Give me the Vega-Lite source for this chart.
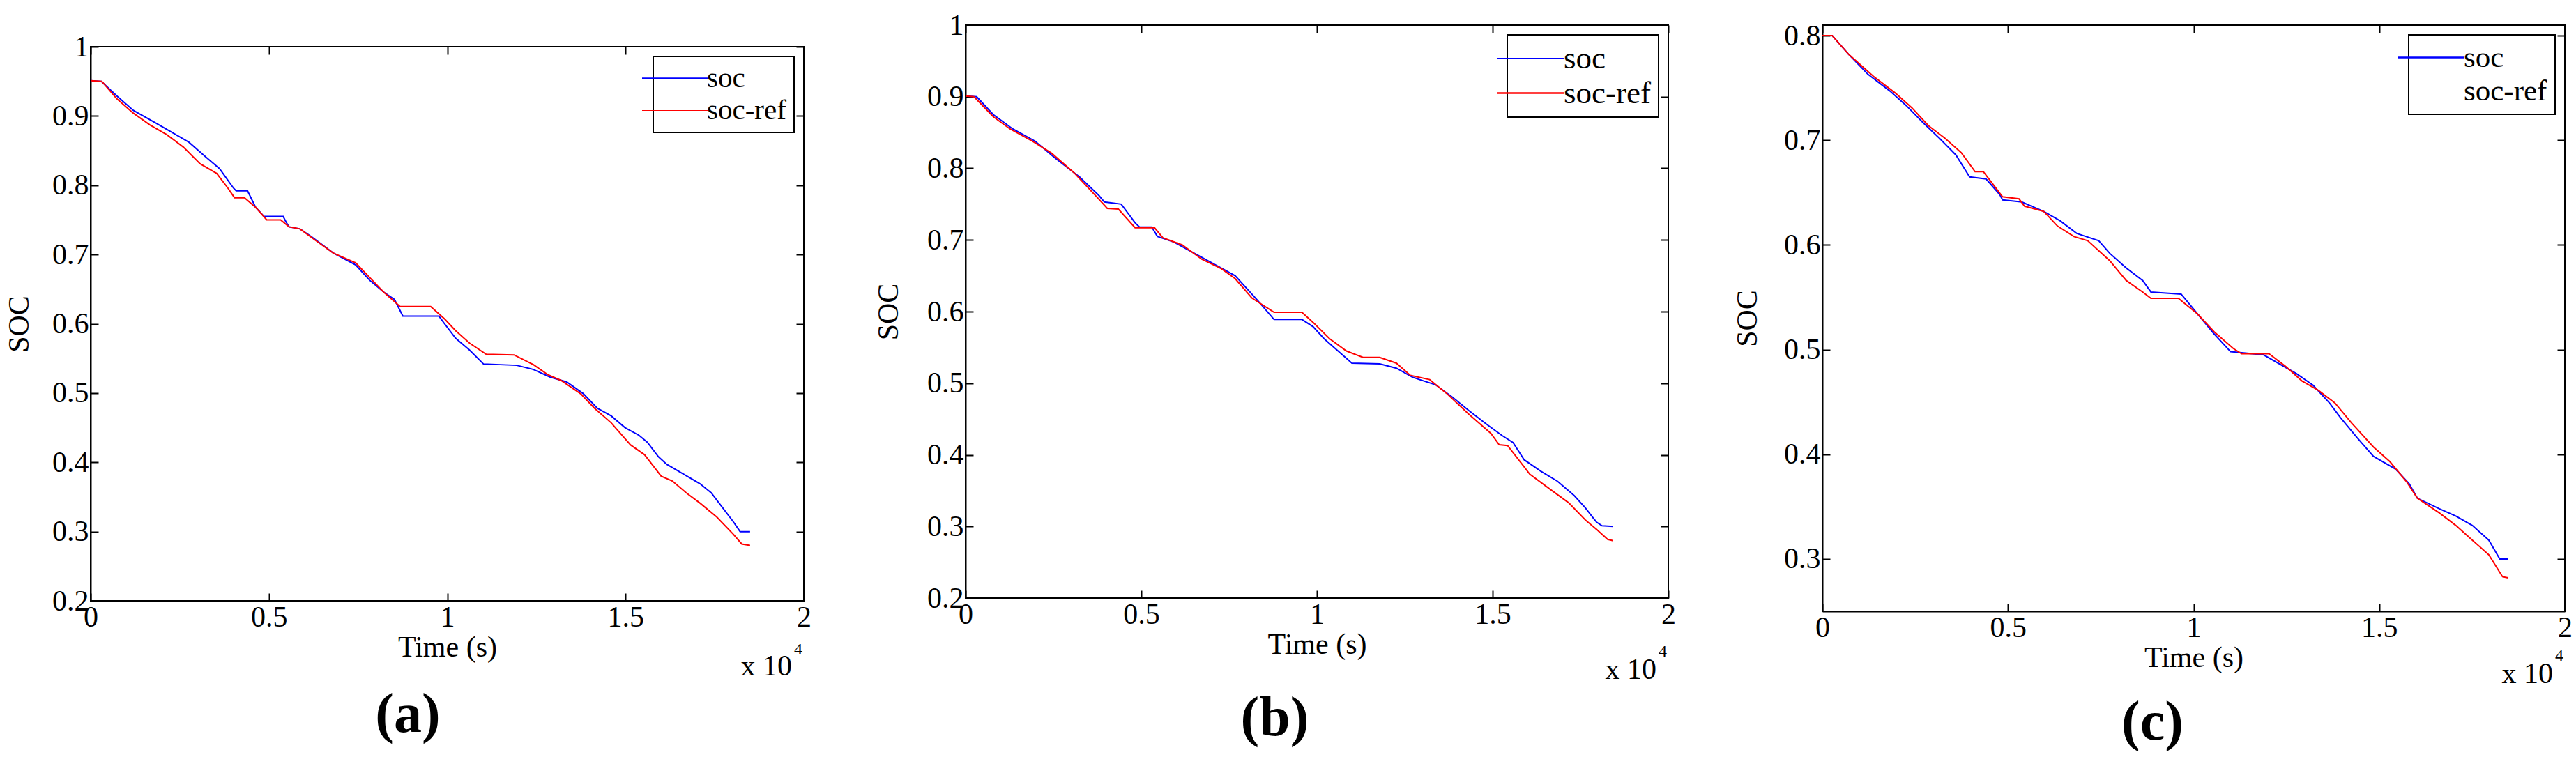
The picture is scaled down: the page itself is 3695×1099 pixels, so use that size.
{
  "$schema": "https://vega.github.io/schema/vega-lite/v6.json",
  "background": "white",
  "padding": {"left": 5, "top": 14, "right": 0, "bottom": 0},
  "autosize": {"type": "pad"},
  "datasets": {
    "a": [
      {"s":"soc","t":0,"v":0.951},{"s":"soc","t":300,"v":0.950},{"s":"soc","t":732,"v":0.929},{"s":"soc","t":1200,"v":0.908},{"s":"soc","t":1823,"v":0.890},{"s":"soc","t":2290,"v":0.876},{"s":"soc","t":2758,"v":0.862},{"s":"soc","t":3225,"v":0.841},{"s":"soc","t":3615,"v":0.824},{"s":"soc","t":4004,"v":0.796},{"s":"soc","t":4080,"v":0.792},{"s":"soc","t":4400,"v":0.792},{"s":"soc","t":4627,"v":0.768},{"s":"soc","t":4860,"v":0.755},{"s":"soc","t":5400,"v":0.755},{"s":"soc","t":5480,"v":0.747},{"s":"soc","t":5562,"v":0.740},{"s":"soc","t":5870,"v":0.737},{"s":"soc","t":6185,"v":0.726},{"s":"soc","t":6808,"v":0.702},{"s":"soc","t":7432,"v":0.685},{"s":"soc","t":7821,"v":0.663},{"s":"soc","t":8210,"v":0.646},{"s":"soc","t":8522,"v":0.635},{"s":"soc","t":8756,"v":0.611},{"s":"soc","t":9769,"v":0.611},{"s":"soc","t":9925,"v":0.600},{"s":"soc","t":10236,"v":0.579},{"s":"soc","t":10626,"v":0.562},{"s":"soc","t":11015,"v":0.542},{"s":"soc","t":11950,"v":0.540},{"s":"soc","t":12417,"v":0.534},{"s":"soc","t":12885,"v":0.523},{"s":"soc","t":13352,"v":0.516},{"s":"soc","t":13819,"v":0.499},{"s":"soc","t":14209,"v":0.478},{"s":"soc","t":14598,"v":0.467},{"s":"soc","t":14988,"v":0.450},{"s":"soc","t":15377,"v":0.439},{"s":"soc","t":15611,"v":0.429},{"s":"soc","t":15923,"v":0.408},{"s":"soc","t":16157,"v":0.397},{"s":"soc","t":16624,"v":0.383},{"s":"soc","t":17091,"v":0.369},{"s":"soc","t":17403,"v":0.356},{"s":"soc","t":17715,"v":0.335},{"s":"soc","t":18026,"v":0.314},{"s":"soc","t":18213,"v":0.300},{"s":"soc","t":18493,"v":0.300},
      {"s":"soc-ref","t":0,"v":0.951},{"s":"soc-ref","t":312,"v":0.950},{"s":"soc-ref","t":732,"v":0.925},{"s":"soc-ref","t":1200,"v":0.904},{"s":"soc-ref","t":1667,"v":0.887},{"s":"soc-ref","t":2135,"v":0.873},{"s":"soc-ref","t":2602,"v":0.855},{"s":"soc-ref","t":3069,"v":0.831},{"s":"soc-ref","t":3537,"v":0.817},{"s":"soc-ref","t":3848,"v":0.796},{"s":"soc-ref","t":4035,"v":0.782},{"s":"soc-ref","t":4316,"v":0.782},{"s":"soc-ref","t":4627,"v":0.768},{"s":"soc-ref","t":4939,"v":0.750},{"s":"soc-ref","t":5328,"v":0.750},{"s":"soc-ref","t":5562,"v":0.740},{"s":"soc-ref","t":5870,"v":0.737},{"s":"soc-ref","t":6263,"v":0.722},{"s":"soc-ref","t":6808,"v":0.702},{"s":"soc-ref","t":7432,"v":0.688},{"s":"soc-ref","t":7821,"v":0.667},{"s":"soc-ref","t":8210,"v":0.646},{"s":"soc-ref","t":8678,"v":0.625},{"s":"soc-ref","t":9535,"v":0.625},{"s":"soc-ref","t":9925,"v":0.607},{"s":"soc-ref","t":10236,"v":0.590},{"s":"soc-ref","t":10626,"v":0.572},{"s":"soc-ref","t":11093,"v":0.556},{"s":"soc-ref","t":11872,"v":0.555},{"s":"soc-ref","t":12417,"v":0.541},{"s":"soc-ref","t":12807,"v":0.527},{"s":"soc-ref","t":13196,"v":0.518},{"s":"soc-ref","t":13741,"v":0.499},{"s":"soc-ref","t":14131,"v":0.478},{"s":"soc-ref","t":14598,"v":0.457},{"s":"soc-ref","t":15143,"v":0.425},{"s":"soc-ref","t":15533,"v":0.411},{"s":"soc-ref","t":16000,"v":0.380},{"s":"soc-ref","t":16312,"v":0.373},{"s":"soc-ref","t":16702,"v":0.356},{"s":"soc-ref","t":17091,"v":0.341},{"s":"soc-ref","t":17559,"v":0.321},{"s":"soc-ref","t":18026,"v":0.296},{"s":"soc-ref","t":18260,"v":0.282},{"s":"soc-ref","t":18493,"v":0.280}
    ],
    "b": [
      {"s":"soc","t":0,"v":0.901},{"s":"soc","t":316,"v":0.900},{"s":"soc","t":791,"v":0.875},{"s":"soc","t":1345,"v":0.855},{"s":"soc","t":1978,"v":0.838},{"s":"soc","t":2531,"v":0.815},{"s":"soc","t":3243,"v":0.788},{"s":"soc","t":3797,"v":0.762},{"s":"soc","t":3950,"v":0.753},{"s":"soc","t":4430,"v":0.750},{"s":"soc","t":4825,"v":0.724},{"s":"soc","t":4950,"v":0.718},{"s":"soc","t":5300,"v":0.718},{"s":"soc","t":5458,"v":0.705},{"s":"soc","t":5932,"v":0.697},{"s":"soc","t":6565,"v":0.680},{"s":"soc","t":7198,"v":0.663},{"s":"soc","t":7673,"v":0.650},{"s":"soc","t":7989,"v":0.633},{"s":"soc","t":8305,"v":0.616},{"s":"soc","t":8780,"v":0.589},{"s":"soc","t":9571,"v":0.589},{"s":"soc","t":9888,"v":0.579},{"s":"soc","t":10204,"v":0.562},{"s":"soc","t":10599,"v":0.545},{"s":"soc","t":10995,"v":0.528},{"s":"soc","t":11786,"v":0.527},{"s":"soc","t":12261,"v":0.521},{"s":"soc","t":12736,"v":0.508},{"s":"soc","t":13368,"v":0.498},{"s":"soc","t":13843,"v":0.481},{"s":"soc","t":14318,"v":0.462},{"s":"soc","t":14792,"v":0.444},{"s":"soc","t":15266,"v":0.427},{"s":"soc","t":15583,"v":0.417},{"s":"soc","t":15899,"v":0.393},{"s":"soc","t":16374,"v":0.377},{"s":"soc","t":16848,"v":0.363},{"s":"soc","t":17323,"v":0.343},{"s":"soc","t":17640,"v":0.326},{"s":"soc","t":17956,"v":0.306},{"s":"soc","t":18114,"v":0.301},{"s":"soc","t":18430,"v":0.300},
      {"s":"soc-ref","t":0,"v":0.901},{"s":"soc-ref","t":240,"v":0.900},{"s":"soc-ref","t":791,"v":0.872},{"s":"soc-ref","t":1266,"v":0.855},{"s":"soc-ref","t":1898,"v":0.838},{"s":"soc-ref","t":2452,"v":0.821},{"s":"soc-ref","t":3085,"v":0.794},{"s":"soc-ref","t":3718,"v":0.761},{"s":"soc-ref","t":4034,"v":0.744},{"s":"soc-ref","t":4350,"v":0.743},{"s":"soc-ref","t":4825,"v":0.717},{"s":"soc-ref","t":5379,"v":0.717},{"s":"soc-ref","t":5616,"v":0.703},{"s":"soc-ref","t":6170,"v":0.693},{"s":"soc-ref","t":6724,"v":0.673},{"s":"soc-ref","t":7277,"v":0.660},{"s":"soc-ref","t":7673,"v":0.646},{"s":"soc-ref","t":8147,"v":0.619},{"s":"soc-ref","t":8780,"v":0.599},{"s":"soc-ref","t":9571,"v":0.599},{"s":"soc-ref","t":9888,"v":0.585},{"s":"soc-ref","t":10362,"v":0.562},{"s":"soc-ref","t":10837,"v":0.545},{"s":"soc-ref","t":11311,"v":0.536},{"s":"soc-ref","t":11786,"v":0.536},{"s":"soc-ref","t":12261,"v":0.528},{"s":"soc-ref","t":12657,"v":0.511},{"s":"soc-ref","t":13210,"v":0.505},{"s":"soc-ref","t":13685,"v":0.486},{"s":"soc-ref","t":14318,"v":0.457},{"s":"soc-ref","t":14950,"v":0.430},{"s":"soc-ref","t":15187,"v":0.414},{"s":"soc-ref","t":15425,"v":0.413},{"s":"soc-ref","t":15899,"v":0.383},{"s":"soc-ref","t":16057,"v":0.373},{"s":"soc-ref","t":16690,"v":0.350},{"s":"soc-ref","t":17165,"v":0.333},{"s":"soc-ref","t":17640,"v":0.309},{"s":"soc-ref","t":17956,"v":0.296},{"s":"soc-ref","t":18272,"v":0.282},{"s":"soc-ref","t":18430,"v":0.280}
    ],
    "c": [
      {"s":"soc","t":0,"v":0.800},{"s":"soc","t":266,"v":0.800},{"s":"soc","t":710,"v":0.782},{"s":"soc","t":1228,"v":0.763},{"s":"soc","t":1820,"v":0.747},{"s":"soc","t":2264,"v":0.733},{"s":"soc","t":2708,"v":0.717},{"s":"soc","t":3152,"v":0.702},{"s":"soc","t":3596,"v":0.686},{"s":"soc","t":3966,"v":0.665},{"s":"soc","t":4410,"v":0.663},{"s":"soc","t":4780,"v":0.648},{"s":"soc","t":4854,"v":0.643},{"s":"soc","t":5372,"v":0.641},{"s":"soc","t":5964,"v":0.632},{"s":"soc","t":6408,"v":0.623},{"s":"soc","t":6852,"v":0.611},{"s":"soc","t":7444,"v":0.604},{"s":"soc","t":7740,"v":0.592},{"s":"soc","t":8184,"v":0.578},{"s":"soc","t":8628,"v":0.566},{"s":"soc","t":8850,"v":0.555},{"s":"soc","t":9664,"v":0.553},{"s":"soc","t":10108,"v":0.534},{"s":"soc","t":10552,"v":0.515},{"s":"soc","t":10996,"v":0.498},{"s":"soc","t":11884,"v":0.495},{"s":"soc","t":12772,"v":0.477},{"s":"soc","t":13216,"v":0.466},{"s":"soc","t":13660,"v":0.449},{"s":"soc","t":13956,"v":0.435},{"s":"soc","t":14400,"v":0.416},{"s":"soc","t":14844,"v":0.398},{"s":"soc","t":15436,"v":0.386},{"s":"soc","t":15806,"v":0.372},{"s":"soc","t":16028,"v":0.358},{"s":"soc","t":16620,"v":0.348},{"s":"soc","t":17064,"v":0.341},{"s":"soc","t":17508,"v":0.332},{"s":"soc","t":17952,"v":0.318},{"s":"soc","t":18248,"v":0.300},{"s":"soc","t":18470,"v":0.300},
      {"s":"soc-ref","t":0,"v":0.800},{"s":"soc-ref","t":266,"v":0.800},{"s":"soc-ref","t":710,"v":0.782},{"s":"soc-ref","t":1376,"v":0.761},{"s":"soc-ref","t":1968,"v":0.745},{"s":"soc-ref","t":2412,"v":0.731},{"s":"soc-ref","t":2856,"v":0.714},{"s":"soc-ref","t":3300,"v":0.702},{"s":"soc-ref","t":3744,"v":0.688},{"s":"soc-ref","t":4114,"v":0.670},{"s":"soc-ref","t":4336,"v":0.670},{"s":"soc-ref","t":4854,"v":0.646},{"s":"soc-ref","t":5298,"v":0.644},{"s":"soc-ref","t":5446,"v":0.637},{"s":"soc-ref","t":5964,"v":0.632},{"s":"soc-ref","t":6334,"v":0.618},{"s":"soc-ref","t":6778,"v":0.608},{"s":"soc-ref","t":7148,"v":0.604},{"s":"soc-ref","t":7740,"v":0.585},{"s":"soc-ref","t":8184,"v":0.566},{"s":"soc-ref","t":8628,"v":0.555},{"s":"soc-ref","t":8850,"v":0.549},{"s":"soc-ref","t":9590,"v":0.549},{"s":"soc-ref","t":10108,"v":0.534},{"s":"soc-ref","t":10552,"v":0.517},{"s":"soc-ref","t":11070,"v":0.501},{"s":"soc-ref","t":11292,"v":0.496},{"s":"soc-ref","t":12032,"v":0.496},{"s":"soc-ref","t":12476,"v":0.484},{"s":"soc-ref","t":12920,"v":0.470},{"s":"soc-ref","t":13364,"v":0.461},{"s":"soc-ref","t":13808,"v":0.449},{"s":"soc-ref","t":14252,"v":0.430},{"s":"soc-ref","t":14844,"v":0.407},{"s":"soc-ref","t":15288,"v":0.393},{"s":"soc-ref","t":15732,"v":0.374},{"s":"soc-ref","t":16028,"v":0.358},{"s":"soc-ref","t":16620,"v":0.344},{"s":"soc-ref","t":17064,"v":0.332},{"s":"soc-ref","t":17508,"v":0.318},{"s":"soc-ref","t":17952,"v":0.304},{"s":"soc-ref","t":18322,"v":0.283},{"s":"soc-ref","t":18470,"v":0.282}
    ]
  },
  "hconcat": [
    {
      "vconcat": [
        {"width": 10, "height": 9, "data": {"values": [{}]}, "mark": {"type": "point", "opacity": 0}, "encoding": {}, "view": {"stroke": null}},
        {
          "width": 1023, "height": 795,
          "data": {"name": "a"},
          "title": {"text": "(a)", "orient": "bottom", "anchor": "middle", "frame": "bounds", "fontSize": 80, "font": "Liberation Serif", "fontWeight": "bold", "color": "black", "offset": 10},
          "layer": [
            {
              "mark": {"type": "line", "strokeWidth": 2},
              "encoding": {
                "x": {"field": "t", "type": "quantitative", "scale": {"domain": [0, 20000], "nice": false}, "axis": {"orient": "bottom", "values": [0, 5000, 10000, 15000, 20000], "labelExpr": "'' + datum.value / 10000", "title": "Time (s)", "titlePadding": 2}},
                "y": {"field": "v", "type": "quantitative", "scale": {"domain": [0.2, 1], "nice": false, "zero": false}, "axis": {"orient": "left", "values": [0.2, 0.3, 0.4, 0.5, 0.6, 0.7, 0.8, 0.9, 1], "labelExpr": "'' + datum.value", "title": "SOC", "titlePadding": 25}},
                "color": {"field": "s", "type": "nominal", "scale": {"domain": ["soc", "soc-ref"], "range": ["#0000ff", "#ff0000"]}, "legend": {"title": null, "labelFontSize": 41, "encode": {"symbols": {"update": {"size": {"value": 9025}, "strokeWidth": {"signal": "datum.value === 'soc' ? 2.5 : 1"}}}, "labels": {"update": {"dx": {"value": 14}}}}}}
              }
            },
            {
              "mark": {"type": "line", "opacity": 0},
              "encoding": {
                "x": {"field": "t", "type": "quantitative", "axis": {"orient": "top", "values": [0, 5000, 10000, 15000, 20000], "labels": false, "title": null, "domain": false}},
                "y": {"field": "v", "type": "quantitative", "axis": {"orient": "right", "values": [0.2, 0.3, 0.4, 0.5, 0.6, 0.7, 0.8, 0.9, 1], "labels": false, "title": null, "domain": false}},
                "detail": {"field": "s"}
              }
            },
            {
              "data": {"values": [{"txt": "x 10"}]},
              "mark": {"type": "text", "align": "right", "baseline": "alphabetic", "dx": -17, "dy": 107, "fontSize": 42, "font": "Liberation Serif", "color": "black"},
              "encoding": {"x": {"datum": 20000, "type": "quantitative", "axis": null}, "y": {"datum": 0.2, "type": "quantitative", "axis": null}, "text": {"field": "txt"}}
            },
            {
              "data": {"values": [{"txt": "4"}]},
              "mark": {"type": "text", "align": "right", "baseline": "alphabetic", "dx": -2, "dy": 77, "fontSize": 24, "font": "Liberation Serif", "color": "black"},
              "encoding": {"x": {"datum": 20000, "type": "quantitative", "axis": null}, "y": {"datum": 0.2, "type": "quantitative", "axis": null}, "text": {"field": "txt"}}
            }
          ],
          "resolve": {"axis": {"x": "independent", "y": "independent"}}
        }
      ],
      "spacing": 0,
      "resolve": {"scale": {"color": "independent", "x": "independent", "y": "independent"}, "legend": {"color": "independent"}}
    },
    {
      "hconcat": [
        {
          "width": 1008, "height": 822,
          "data": {"name": "b"},
          "title": {"text": "(b)", "orient": "bottom", "anchor": "middle", "frame": "bounds", "fontSize": 80, "font": "Liberation Serif", "fontWeight": "bold", "color": "black", "offset": 10},
          "layer": [
            {
              "mark": {"type": "line", "strokeWidth": 2},
              "encoding": {
                "x": {"field": "t", "type": "quantitative", "scale": {"domain": [0, 20000], "nice": false}, "axis": {"orient": "bottom", "values": [0, 5000, 10000, 15000, 20000], "labelExpr": "'' + datum.value / 10000", "title": "Time (s)", "titlePadding": 2}},
                "y": {"field": "v", "type": "quantitative", "scale": {"domain": [0.2, 1], "nice": false, "zero": false}, "axis": {"orient": "left", "values": [0.2, 0.3, 0.4, 0.5, 0.6, 0.7, 0.8, 0.9, 1], "labelExpr": "'' + datum.value", "title": "SOC", "titlePadding": 33}},
                "color": {"field": "s", "type": "nominal", "scale": {"domain": ["soc", "soc-ref"], "range": ["#0000ff", "#ff0000"]}, "legend": {"title": null, "labelFontSize": 45, "encode": {"symbols": {"update": {"size": {"value": 9025}, "strokeWidth": {"signal": "datum.value === 'soc' ? 1 : 2.5"}}}, "labels": {"update": {"dx": {"value": 14}}}}}}
              }
            },
            {
              "mark": {"type": "line", "opacity": 0},
              "encoding": {
                "x": {"field": "t", "type": "quantitative", "axis": {"orient": "top", "values": [0, 5000, 10000, 15000, 20000], "labels": false, "title": null, "domain": false}},
                "y": {"field": "v", "type": "quantitative", "axis": {"orient": "right", "values": [0.2, 0.3, 0.4, 0.5, 0.6, 0.7, 0.8, 0.9, 1], "labels": false, "title": null, "domain": false}},
                "detail": {"field": "s"}
              }
            },
            {
              "data": {"values": [{"txt": "x 10"}]},
              "mark": {"type": "text", "align": "right", "baseline": "alphabetic", "dx": -17, "dy": 116, "fontSize": 42, "font": "Liberation Serif", "color": "black"},
              "encoding": {"x": {"datum": 20000, "type": "quantitative", "axis": null}, "y": {"datum": 0.2, "type": "quantitative", "axis": null}, "text": {"field": "txt"}}
            },
            {
              "data": {"values": [{"txt": "4"}]},
              "mark": {"type": "text", "align": "right", "baseline": "alphabetic", "dx": -2, "dy": 84, "fontSize": 24, "font": "Liberation Serif", "color": "black"},
              "encoding": {"x": {"datum": 20000, "type": "quantitative", "axis": null}, "y": {"datum": 0.2, "type": "quantitative", "axis": null}, "text": {"field": "txt"}}
            }
          ],
          "resolve": {"axis": {"x": "independent", "y": "independent"}}
        },
        {
          "width": 1065, "height": 841,
          "data": {"name": "c"},
          "title": {"text": "(c)", "orient": "bottom", "anchor": "middle", "frame": "bounds", "fontSize": 80, "font": "Liberation Serif", "fontWeight": "bold", "color": "black", "offset": 10},
          "layer": [
            {
              "mark": {"type": "line", "strokeWidth": 2},
              "encoding": {
                "x": {"field": "t", "type": "quantitative", "scale": {"domain": [0, 20000], "nice": false}, "axis": {"orient": "bottom", "values": [0, 5000, 10000, 15000, 20000], "labelExpr": "'' + datum.value / 10000", "title": "Time (s)", "titlePadding": 2}},
                "y": {"field": "v", "type": "quantitative", "scale": {"domain": [0.25, 0.81], "nice": false, "zero": false}, "axis": {"orient": "left", "values": [0.3, 0.4, 0.5, 0.6, 0.7, 0.8], "labelExpr": "'' + datum.value", "title": "SOC", "titlePadding": 30}},
                "color": {"field": "s", "type": "nominal", "scale": {"domain": ["soc", "soc-ref"], "range": ["#0000ff", "#ff0000"]}, "legend": {"title": null, "labelFontSize": 43, "encode": {"symbols": {"update": {"size": {"value": 9025}, "strokeWidth": {"signal": "datum.value === 'soc' ? 2.5 : 1"}}}, "labels": {"update": {"dx": {"value": 14}}}}}}
              }
            },
            {
              "mark": {"type": "line", "opacity": 0},
              "encoding": {
                "x": {"field": "t", "type": "quantitative", "axis": {"orient": "top", "values": [0, 5000, 10000, 15000, 20000], "labels": false, "title": null, "domain": false}},
                "y": {"field": "v", "type": "quantitative", "axis": {"orient": "right", "values": [0.3, 0.4, 0.5, 0.6, 0.7, 0.8], "labels": false, "title": null, "domain": false}},
                "detail": {"field": "s"}
              }
            },
            {
              "data": {"values": [{"txt": "x 10"}]},
              "mark": {"type": "text", "align": "right", "baseline": "alphabetic", "dx": -17, "dy": 103, "fontSize": 42, "font": "Liberation Serif", "color": "black"},
              "encoding": {"x": {"datum": 20000, "type": "quantitative", "axis": null}, "y": {"datum": 0.25, "type": "quantitative", "axis": null}, "text": {"field": "txt"}}
            },
            {
              "data": {"values": [{"txt": "4"}]},
              "mark": {"type": "text", "align": "right", "baseline": "alphabetic", "dx": -2, "dy": 71, "fontSize": 24, "font": "Liberation Serif", "color": "black"},
              "encoding": {"x": {"datum": 20000, "type": "quantitative", "axis": null}, "y": {"datum": 0.25, "type": "quantitative", "axis": null}, "text": {"field": "txt"}}
            }
          ],
          "resolve": {"axis": {"x": "independent", "y": "independent"}}
        }
      ],
      "spacing": 79,
      "resolve": {"scale": {"color": "independent", "x": "independent", "y": "independent"}, "legend": {"color": "independent"}}
    }
  ],
  "spacing": 87,
  "resolve": {"scale": {"color": "independent", "x": "independent", "y": "independent"}, "legend": {"color": "independent"}},
  "config": {
    "font": "Liberation Serif",
    "view": {"stroke": "black", "strokeWidth": 2},
    "axis": {"labelFont": "Liberation Serif", "labelFontSize": 42, "labelColor": "black", "titleFont": "Liberation Serif", "titleFontSize": 42, "titleFontWeight": "normal", "titleColor": "black", "domainColor": "black", "domainWidth": 2, "tickColor": "black", "tickWidth": 2, "tickSize": -11, "labelPadding": 14, "grid": false, "labelFlush": false, "labelOverlap": false},
    "legend": {"orient": "top-right", "offset": 14, "strokeColor": "black", "strokeWidth": 2, "fillColor": "white", "padding": 11, "labelFont": "Liberation Serif", "labelFontSize": 42, "labelColor": "black", "symbolType": "stroke", "symbolSize": 9025, "symbolStrokeWidth": 2, "rowPadding": 4, "labelOffset": 11, "cornerRadius": 0}
  }
}
